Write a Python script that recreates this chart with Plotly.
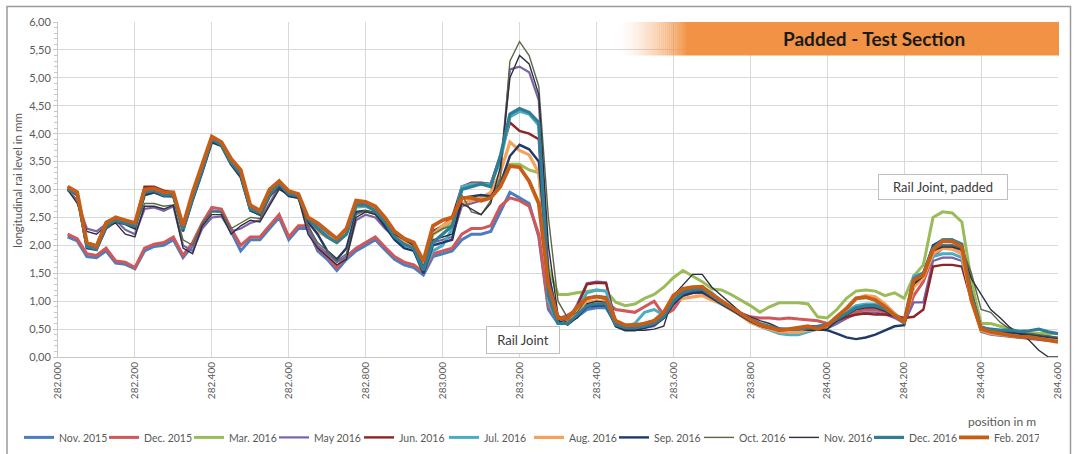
import plotly.graph_objects as go

# Track position along the measured section (m), sampled every 25 mm
position_m = [round(282.025 + 0.025 * i, 3) for i in range(104)]

x_ticks = [282.0, 282.2, 282.4, 282.6, 282.8, 283.0, 283.2,
           283.4, 283.6, 283.8, 284.0, 284.2, 284.4, 284.6]
x_tick_text = ["282.000", "282.200", "282.400", "282.600", "282.800", "283.000", "283.200",
               "283.400", "283.600", "283.800", "284.000", "284.200", "284.400", "284.600"]
y_ticks = [0, 0.5, 1, 1.5, 2, 2.5, 3, 3.5, 4, 4.5, 5, 5.5, 6]
y_tick_text = ["0,00", "0,50", "1,00", "1,50", "2,00", "2,50", "3,00",
               "3,50", "4,00", "4,50", "5,00", "5,50", "6,00"]

# Longitudinal rail level (mm) per measurement campaign
nov_2015 = [2.15, 2.08, 1.8, 1.78, 1.9, 1.68, 1.66, 1.58, 1.9, 1.98,
            2.0, 2.1, 1.78, 2.0, 2.35, 2.62, 2.6, 2.25, 1.9, 2.1,
            2.1, 2.3, 2.5, 2.1, 2.3, 2.3, 1.9, 1.75, 1.55, 1.75,
            1.9, 2.0, 2.1, 1.92, 1.75, 1.65, 1.6, 1.47, 1.8, 1.85,
            1.9, 2.1, 2.2, 2.2, 2.25, 2.6, 2.95, 2.85, 2.75, 2.15,
            0.85, 0.6, 0.62, 0.72, 0.85, 0.88, 0.88, 0.6, 0.55, 0.55,
            0.6, 0.65, 0.72, 0.95, 1.12, 1.18, 1.2, 1.08, 0.96, 0.86,
            0.76, 0.66, 0.58, 0.52, 0.48, 0.46, 0.45, 0.48, 0.5, 0.52,
            0.6, 0.7, 0.8, 0.88, 0.9, 0.86, 0.78, 0.65, 1.3, 1.45,
            1.88, 2.0, 2.0, 1.92, 1.05, 0.48, 0.45, 0.42, 0.4, 0.38,
            0.36, 0.34, 0.32, 0.3]
dec_2015 = [2.2, 2.12, 1.85, 1.82, 1.95, 1.72, 1.7, 1.6, 1.95, 2.02,
            2.05, 2.15, 1.82, 2.05, 2.4, 2.68, 2.65, 2.3, 2.0, 2.15,
            2.15, 2.35, 2.55, 2.15, 2.35, 2.35, 1.95, 1.8, 1.6, 1.8,
            1.95, 2.05, 2.15, 1.97, 1.8, 1.7, 1.65, 1.52, 1.85, 1.9,
            1.95, 2.2, 2.3, 2.3, 2.35, 2.7, 2.85, 2.8, 2.7, 2.2,
            0.9, 0.68, 0.75, 0.85, 0.98, 1.0, 0.98, 0.85, 0.82, 0.8,
            0.9, 1.0, 0.75, 0.85, 1.1, 1.15, 1.15, 1.05, 0.95, 0.85,
            0.78, 0.72, 0.7, 0.7, 0.68, 0.7, 0.68, 0.66, 0.65, 0.6,
            0.62, 0.7, 0.8, 0.85, 0.85, 0.8, 0.72, 0.62, 1.1, 1.35,
            1.8, 1.95, 1.95, 1.85, 1.1, 0.55, 0.48, 0.45, 0.42, 0.4,
            0.38, 0.36, 0.34, 0.32]
mar_2016 = [3.0, 2.9, 2.0, 1.95, 2.35, 2.45, 2.4, 2.35, 2.9, 2.95,
            2.9, 2.88, 2.3, 2.85, 3.35, 3.85, 3.78, 3.45, 3.25, 2.65,
            2.55, 2.9, 3.08, 2.9, 2.85, 2.45, 2.3, 2.15, 2.05, 2.2,
            2.68, 2.7, 2.62, 2.42, 2.18, 2.05, 1.98, 1.62, 2.2, 2.3,
            2.4, 3.0, 3.08, 3.1, 3.1, 3.15, 3.45, 3.45, 3.35, 3.3,
            1.6, 1.12, 1.12, 1.15, 1.18, 1.2, 1.18, 0.98, 0.92, 0.95,
            1.05, 1.12, 1.25, 1.42, 1.55, 1.45, 1.35, 1.22, 1.2, 1.12,
            1.02, 0.92, 0.8, 0.9, 0.97, 0.97, 0.97, 0.95, 0.72, 0.7,
            0.85, 1.05, 1.18, 1.2, 1.18, 1.1, 1.15, 1.05, 1.45, 1.65,
            2.5, 2.6, 2.58, 2.42, 1.35, 0.6, 0.6, 0.55, 0.5, 0.45,
            0.43, 0.43, 0.42, 0.42]
may_2016 = [3.0, 2.8, 2.3, 2.25, 2.38, 2.45, 2.28, 2.2, 2.65, 2.68,
            2.62, 2.7, 2.0, 1.9, 2.3, 2.5, 2.52, 2.25, 2.3, 2.4,
            2.45, 2.75, 3.05, 2.92, 2.88, 2.3, 2.0, 1.85, 1.7, 1.8,
            2.45, 2.55, 2.5, 2.3, 2.15, 2.05, 1.95, 1.6, 2.05, 2.1,
            2.15, 2.7, 2.75, 2.8, 2.85, 3.3, 5.15, 5.2, 5.1, 4.6,
            1.5, 0.7, 0.62, 0.95, 1.32, 1.35, 1.34, 0.6, 0.52, 0.52,
            0.52, 0.55, 0.7, 0.98, 1.15, 1.2, 1.22, 1.1, 0.96, 0.85,
            0.74, 0.62, 0.55, 0.5, 0.46, 0.45, 0.45, 0.48, 0.5, 0.52,
            0.62, 0.7, 0.76, 0.8, 0.8, 0.76, 0.7, 0.6, 0.98, 0.98,
            1.72, 1.78, 1.78, 1.72, 1.0, 0.45, 0.4, 0.38, 0.36, 0.34,
            0.32, 0.3, 0.29, 0.28]
jun_2016 = [3.05, 2.95, 2.05, 2.0, 2.42, 2.5, 2.45, 2.4, 3.05, 3.05,
            2.98, 2.95, 2.35, 2.92, 3.42, 3.92, 3.82, 3.5, 3.32, 2.7,
            2.62, 2.98, 3.15, 2.95, 2.92, 2.5, 2.35, 2.2, 2.1, 2.25,
            2.75, 2.75, 2.68, 2.48, 2.22, 2.1, 2.02, 1.68, 2.25, 2.35,
            2.5, 3.05, 3.12, 3.12, 3.1, 3.6, 4.2, 4.05, 4.0, 3.9,
            1.05, 0.6, 0.6, 0.9, 1.3, 1.33, 1.32, 0.62, 0.55, 0.55,
            0.55, 0.58, 0.7, 0.95, 1.15, 1.2, 1.22, 1.1, 0.98, 0.86,
            0.74, 0.64, 0.56, 0.52, 0.5, 0.5, 0.52, 0.55, 0.55, 0.55,
            0.65, 0.72, 0.76, 0.78, 0.76, 0.76, 0.74, 0.7, 0.72, 0.85,
            1.62, 1.65, 1.65, 1.62, 1.0, 0.48, 0.45, 0.42, 0.4, 0.38,
            0.36, 0.34, 0.32, 0.3]
jul_2016 = [3.0, 2.9, 2.0, 1.95, 2.35, 2.45, 2.42, 2.38, 2.95, 2.98,
            2.92, 2.9, 2.3, 2.88, 3.38, 3.88, 3.8, 3.5, 3.3, 2.68,
            2.6, 2.95, 3.1, 2.95, 2.9, 2.45, 2.32, 2.18, 2.08, 2.22,
            2.7, 2.7, 2.62, 2.4, 2.15, 2.0, 1.95, 1.55, 1.9, 2.0,
            2.3, 3.05, 3.1, 3.1, 3.1, 3.5, 4.3, 4.4, 4.35, 4.15,
            1.0, 0.62, 0.62, 0.85, 1.15, 1.2, 1.18, 0.62, 0.55, 0.6,
            0.8, 0.85, 0.75, 1.02, 1.18, 1.22, 1.25, 1.15, 1.0, 0.88,
            0.75, 0.63, 0.55, 0.48, 0.42, 0.4, 0.4, 0.45, 0.5, 0.55,
            0.68, 0.82, 0.92, 0.95, 0.95, 0.88, 0.75, 0.6, 1.45, 1.5,
            1.8, 1.85, 1.85, 1.78, 1.05, 0.48, 0.42, 0.4, 0.38, 0.38,
            0.38, 0.36, 0.35, 0.33]
aug_2016 = [3.0, 2.9, 2.0, 1.95, 2.38, 2.48, 2.42, 2.35, 2.95, 2.98,
            2.92, 2.9, 2.3, 2.9, 3.4, 3.9, 3.82, 3.5, 3.3, 2.68,
            2.6, 2.95, 3.1, 2.92, 2.88, 2.45, 2.25, 2.15, 2.1, 2.25,
            2.72, 2.72, 2.65, 2.45, 2.2, 2.05, 1.98, 1.6, 2.2, 2.35,
            2.45, 2.75, 2.8, 2.85, 2.95, 3.3, 3.85, 3.7, 3.62, 3.3,
            1.3, 0.62, 0.6, 0.82, 0.98, 1.0, 0.98, 0.58, 0.5, 0.5,
            0.55, 0.62, 0.75, 1.0, 1.05, 1.08, 1.1, 1.02, 0.95, 0.85,
            0.75, 0.62, 0.55, 0.5, 0.45, 0.45, 0.44, 0.48, 0.5, 0.55,
            0.7, 0.85, 1.05, 1.1, 1.08, 0.95, 0.78, 0.62, 1.25, 1.42,
            1.85, 1.95, 1.93, 1.85, 1.0, 0.48, 0.42, 0.4, 0.38, 0.36,
            0.35, 0.35, 0.33, 0.3]
sep_2016 = [3.0, 2.9, 1.95, 1.92, 2.3, 2.42, 2.38, 2.3, 2.9, 2.95,
            2.88, 2.88, 2.25, 2.8, 3.3, 3.85, 3.78, 3.45, 3.22, 2.62,
            2.55, 2.88, 3.05, 2.88, 2.85, 2.42, 2.2, 1.9, 1.75, 1.95,
            2.6, 2.62, 2.58, 2.35, 2.1, 1.95, 1.9, 1.5, 2.0, 2.05,
            2.1, 2.85, 2.88, 2.9, 2.88, 3.1, 3.6, 3.8, 3.72, 3.5,
            1.5, 0.65, 0.58, 0.72, 0.9, 0.92, 0.92, 0.55, 0.48, 0.48,
            0.52, 0.58, 0.7, 0.95, 1.1, 1.15, 1.16, 1.05, 0.95, 0.85,
            0.74, 0.64, 0.56, 0.52, 0.5, 0.5, 0.5, 0.52, 0.5, 0.48,
            0.42, 0.35, 0.32, 0.35, 0.4, 0.48, 0.55, 0.57, 1.35, 1.5,
            2.0, 2.1, 2.1, 2.0, 1.15, 0.52, 0.48, 0.45, 0.44, 0.42,
            0.4, 0.38, 0.36, 0.34]
oct_2016 = [3.0, 2.9, 2.0, 1.95, 2.3, 2.42, 2.38, 2.32, 2.75, 2.75,
            2.7, 2.72, 2.1, 2.0, 2.4, 2.6, 2.6, 2.3, 2.4, 2.5,
            2.48, 2.85, 3.08, 2.95, 2.9, 2.35, 2.05, 1.9, 1.72, 1.85,
            2.55, 2.62, 2.58, 2.4, 2.2, 2.1, 2.0, 1.62, 2.2, 2.3,
            2.35, 2.9, 2.6, 2.55, 2.8, 3.2, 5.3, 5.65, 5.4, 4.85,
            2.5, 1.0, 0.7, 0.8, 1.05, 1.1, 1.08, 0.6, 0.52, 0.52,
            0.55, 0.6, 0.72, 1.0, 1.18, 1.22, 1.24, 1.12, 0.98, 0.88,
            0.76, 0.66, 0.58, 0.54, 0.5, 0.5, 0.5, 0.52, 0.52, 0.55,
            0.65, 0.75, 0.85, 0.9, 0.9, 0.85, 0.75, 0.62, 1.3, 1.45,
            1.9, 2.0, 2.0, 1.95, 1.5, 0.85, 0.8, 0.62, 0.5, 0.45,
            0.42, 0.4, 0.38, 0.35]
nov_2016 = [3.0, 2.75, 2.25, 2.2, 2.35, 2.4, 2.2, 2.15, 2.7, 2.7,
            2.65, 2.72, 1.95, 1.85, 2.35, 2.55, 2.55, 2.2, 2.35, 2.45,
            2.42, 2.7, 3.0, 2.9, 2.85, 2.2, 1.95, 1.8, 1.65, 1.75,
            2.5, 2.6, 2.55, 2.35, 2.2, 2.1, 2.0, 1.58, 2.1, 2.15,
            2.2, 2.75, 2.65, 2.55, 2.75, 3.4, 5.0, 5.4, 5.25, 4.7,
            2.0, 0.75, 0.6, 0.7, 0.95, 1.0, 0.98, 0.55, 0.48, 0.48,
            0.48, 0.5, 0.55, 1.1, 1.3, 1.48, 1.48, 1.25, 1.1, 0.95,
            0.8, 0.72, 0.65, 0.6, 0.52, 0.5, 0.5, 0.48, 0.48, 0.5,
            0.65, 0.75, 0.85, 0.88, 0.88, 0.82, 0.72, 0.62, 1.3, 1.45,
            1.9, 1.97, 1.97, 1.92, 1.4, 1.12, 0.85, 0.7, 0.53, 0.42,
            0.3, 0.12, 0.0, 0.0]
dec_2016 = [3.0, 2.92, 1.98, 1.93, 2.35, 2.45, 2.4, 2.35, 2.95, 2.98,
            2.9, 2.9, 2.28, 2.85, 3.35, 3.9, 3.8, 3.48, 3.28, 2.65,
            2.58, 2.92, 3.1, 2.92, 2.88, 2.48, 2.3, 2.15, 2.05, 2.2,
            2.72, 2.72, 2.62, 2.42, 2.15, 2.02, 1.95, 1.55, 2.05, 2.2,
            2.35, 3.0, 3.05, 3.1, 3.05, 3.6, 4.35, 4.45, 4.38, 4.2,
            1.1, 0.6, 0.6, 0.75, 0.92, 0.95, 0.95, 0.58, 0.52, 0.52,
            0.55, 0.6, 0.72, 1.0, 1.15, 1.2, 1.22, 1.1, 0.98, 0.88,
            0.78, 0.68, 0.6, 0.55, 0.5, 0.5, 0.5, 0.52, 0.55, 0.58,
            0.68, 0.78, 0.88, 0.92, 0.92, 0.86, 0.75, 0.62, 1.4, 1.5,
            1.95, 2.1, 2.1, 2.02, 1.1, 0.52, 0.5, 0.48, 0.48, 0.46,
            0.47, 0.5, 0.45, 0.42]
feb_2017 = [3.05, 2.95, 2.05, 1.98, 2.4, 2.5, 2.45, 2.4, 3.0, 3.02,
            2.95, 2.95, 2.35, 2.95, 3.45, 3.95, 3.85, 3.55, 3.35, 2.72,
            2.62, 3.0, 3.15, 2.97, 2.92, 2.5, 2.4, 2.25, 2.12, 2.3,
            2.8, 2.78, 2.7, 2.5, 2.25, 2.12, 2.05, 1.72, 2.35, 2.45,
            2.5, 2.85, 2.85, 2.8, 2.85, 3.05, 3.42, 3.4, 3.15, 2.75,
            1.3, 0.7, 0.68, 0.9, 1.05, 1.08, 1.05, 0.65, 0.57, 0.57,
            0.6, 0.65, 0.8, 1.1, 1.22, 1.25, 1.26, 1.12, 1.0, 0.9,
            0.78, 0.67, 0.58, 0.53, 0.48, 0.5, 0.52, 0.55, 0.5, 0.57,
            0.72, 0.87, 1.05, 1.07, 1.02, 0.9, 0.75, 0.63, 1.38, 1.47,
            1.92, 2.08, 2.07, 1.98, 1.02, 0.5, 0.45, 0.42, 0.39, 0.36,
            0.36, 0.33, 0.3, 0.27]

# name, values, colour, line width
series = [
    ("Nov. 2015", nov_2015, "#4a7ec0", 3.0),
    ("Dec. 2015", dec_2015, "#d0575a", 3.0),
    ("Mar. 2016", mar_2016, "#9bbb59", 3.0),
    ("May 2016", may_2016, "#7a62a6", 2.2),
    ("Jun. 2016", jun_2016, "#8e2424", 2.4),
    ("Jul. 2016", jul_2016, "#4bacc6", 3.0),
    ("Aug. 2016", aug_2016, "#f5a25d", 3.2),
    ("Sep. 2016", sep_2016, "#1f3a68", 2.4),
    ("Oct. 2016", oct_2016, "#5a6846", 1.4),
    ("Nov. 2016", nov_2016, "#2e2e3e", 1.4),
    ("Dec. 2016", dec_2016, "#2f7e95", 3.2),
    ("Feb. 2017", feb_2017, "#c65e17", 3.8),
]

FONT = "Lato, 'Open Sans', sans-serif"
GREY = "#595959"

fig = go.Figure()
for name, values, color, width in series:
    fig.add_trace(go.Scatter(
        x=position_m, y=values, name=name, mode="lines",
        line=dict(color=color, width=width),
    ))

# Orange title banner with a soft fade-in on its left end
shapes = []
fade_steps = 36
fade_x0, fade_x1 = 0.559, 0.630
for i in range(fade_steps):
    a = (i + 1) / fade_steps
    shapes.append(dict(
        type="rect", xref="paper", yref="paper",
        x0=fade_x0 + (fade_x1 - fade_x0) * i / fade_steps,
        x1=fade_x0 + (fade_x1 - fade_x0) * (i + 1) / fade_steps,
        y0=0.9, y1=1.0,
        fillcolor=f"rgba(241,146,68,{a ** 1.6:.3f})", line=dict(width=0), layer="above",
    ))
shapes.append(dict(
    type="rect", xref="paper", yref="paper",
    x0=fade_x1, x1=1.001, y0=0.9, y1=1.0,
    fillcolor="#f19244", line=dict(width=0), layer="above",
))
# chart frame
shapes.append(dict(
    type="rect", xref="paper", yref="paper",
    x0=-0.051, x1=1.0125, y0=-0.36, y1=1.0464,
    fillcolor="rgba(0,0,0,0)", line=dict(color="#9a9a9a", width=1.5), layer="below",
))

annotations = [
    dict(text="<b>Padded - Test Section</b>", xref="paper", yref="paper",
         x=0.816, y=0.95, xanchor="center", yanchor="middle", showarrow=False,
         font=dict(family=FONT, size=19, color="#1a1a1a")),
    dict(text="Rail Joint", x=283.208, y=0.30, showarrow=False,
         bgcolor="white", bordercolor="#bfbfbf", borderwidth=1, borderpad=1,
         width=70, height=24, font=dict(family=FONT, size=13, color="#3a3a3a")),
    dict(text="Rail Joint, padded", x=284.302, y=3.05, showarrow=False,
         bgcolor="white", bordercolor="#bfbfbf", borderwidth=1, borderpad=1,
         width=126, height=22, font=dict(family=FONT, size=13, color="#3a3a3a")),
    dict(text="position in m", xref="paper", yref="paper", x=0.98, y=-0.192,
         xanchor="right", yanchor="middle", showarrow=False,
         font=dict(family=FONT, size=12, color=GREY)),
    dict(text="longitudinal rai level in mm", xref="paper", yref="paper",
         x=-0.04, y=0.526, textangle=-90, showarrow=False,
         xanchor="center", yanchor="middle",
         font=dict(family=FONT, size=11.5, color=GREY)),
]

fig.update_layout(
    template="none",
    width=1081, height=454,
    margin=dict(l=58, r=23, t=22, b=97, autoexpand=False),
    paper_bgcolor="white", plot_bgcolor="white",
    font=dict(family=FONT, color=GREY),
    showlegend=True,
    legend=dict(
        orientation="h", x=-0.039, xanchor="left", y=-0.24, yanchor="middle",
        font=dict(family=FONT, size=10.5, color=GREY),
        entrywidth=40, entrywidthmode="pixels", itemwidth=30,
        bgcolor="rgba(0,0,0,0)", borderwidth=0,
    ),
    xaxis=dict(
        range=[282.0, 284.6], tickmode="array", tickvals=x_ticks, ticktext=x_tick_text,
        tickangle=-90, tickfont=dict(family=FONT, size=10, color=GREY),
        showgrid=True, gridcolor="#d9d9d9", gridwidth=1,
        showline=True, linecolor="#c8c8c8", linewidth=1,
        ticks="", zeroline=False, automargin=False,
    ),
    yaxis=dict(
        range=[0, 6], tickmode="array", tickvals=y_ticks, ticktext=y_tick_text,
        tickfont=dict(family=FONT, size=11, color=GREY),
        showgrid=True, gridcolor="#d9d9d9", gridwidth=1,
        showline=True, linecolor="#c8c8c8", linewidth=1,
        ticks="outside", ticklen=4, tickcolor="#c8c8c8",
        minor=dict(dtick=0.1, ticks="outside", ticklen=3, tickcolor="#c8c8c8", showgrid=False),
        zeroline=False, automargin=False,
    ),
    shapes=shapes,
    annotations=annotations,
)

fig.write_html("out.html")
